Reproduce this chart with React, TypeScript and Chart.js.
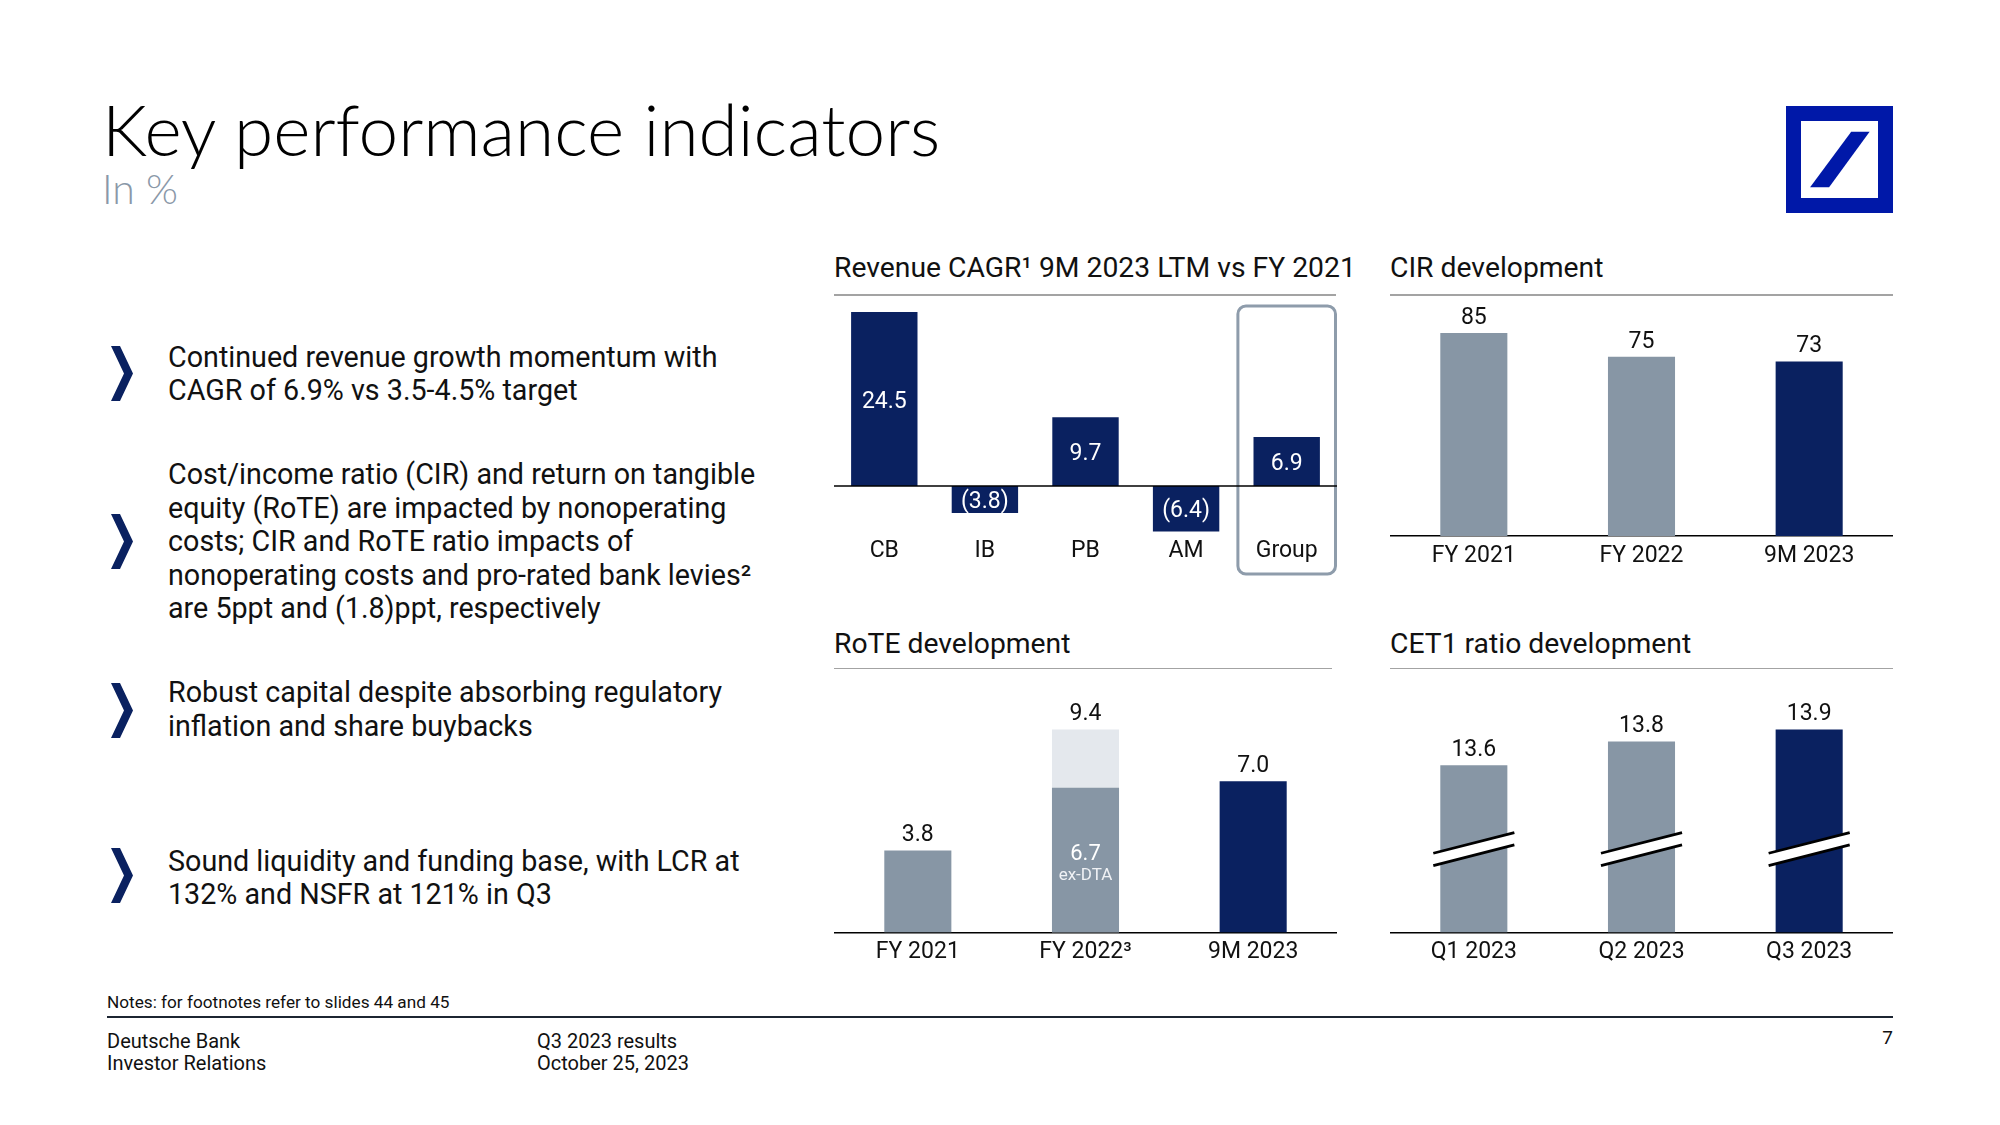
import React, { useEffect, useRef } from "react";
import { Chart, registerables } from "chart.js";

Chart.register(...registerables);

// ---------- data ----------
const revenueCategories = ["CB", "IB", "PB", "AM", "Group"];
const revenueCagr = [24.5, -3.8, 9.7, -6.4, 6.9];

const cirCategories = ["FY 2021", "FY 2022", "9M 2023"];
const cirValues = [85, 75, 73];

const roteCategories = ["FY 2021", "FY 2022³", "9M 2023"];
const roteValues = [3.8, 9.4, 7.0];
const roteExDta = [null, 6.7, null];

const cet1Categories = ["Q1 2023", "Q2 2023", "Q3 2023"];
const cet1Values = [13.6, 13.8, 13.9];
const cet1AxisMin = 12.2; // broken axis
const cet1AxisMax = 14.0;

// ---------- styles ----------
const FONT = "Roboto, 'Liberation Sans', sans-serif";
const NAVY = "#0a2160";
const GRAY = "#8796a5";
const LIGHT = "#e4e8ed";
const TEXT = "#111111";

const revenueColors = [NAVY, NAVY, NAVY, NAVY, NAVY];
const cirColors = [GRAY, GRAY, NAVY];
const roteColors = [GRAY, LIGHT, NAVY];
const cet1Colors = [GRAY, GRAY, NAVY];

function txt(ctx: CanvasRenderingContext2D, s: string, x: number, y: number, size: number, color: string) {
  ctx.save();
  ctx.font = `${size}px ${FONT}`;
  ctx.fillStyle = color;
  ctx.textAlign = "center";
  ctx.textBaseline = "middle";
  ctx.fillText(s, x, y);
  ctx.restore();
}

function baseOptions(padTop: number, padBottom: number, yMin: number, yMax: number, tickPad: number, border: boolean): any {
  return {
    responsive: false,
    animation: false,
    events: [],
    layout: { padding: { top: padTop, bottom: padBottom, left: 0, right: 0 } },
    plugins: { legend: { display: false }, tooltip: { enabled: false } },
    scales: {
      x: {
        grid: { display: false, drawTicks: false },
        border: { display: border, color: "#000000", width: 1.5 },
        ticks: { color: TEXT, font: { family: FONT, size: 23 }, padding: tickPad, maxRotation: 0, autoSkip: false },
      },
      y: { display: false, min: yMin, max: yMax, beginAtZero: false },
    },
  };
}

function ChartBox({ left, top, width, height, make }: any) {
  const ref = useRef<HTMLCanvasElement | null>(null);
  useEffect(() => {
    const chart = new Chart(ref.current as HTMLCanvasElement, make());
    return () => chart.destroy();
  }, []);
  return (
    <canvas
      ref={ref}
      width={width}
      height={height}
      style={{ position: "absolute", left, top, width, height }}
    />
  );
}

const ABOVE = 15; // label offset above bar top

function makeRevenue(): any {
  return {
    type: "bar",
    data: {
      labels: revenueCategories,
      datasets: [
        { data: revenueCagr, backgroundColor: revenueColors, barPercentage: 0.66, categoryPercentage: 1 },
      ],
    },
    options: baseOptions(12.5, 18.1, -6.8, 25, 3, false),
    plugins: [
      {
        id: "groupBox",
        beforeDatasetsDraw(chart: any) {
          const ctx = chart.ctx;
          const xs = chart.scales.x;
          const i = revenueCategories.indexOf("Group");
          const cx = xs.getPixelForValue(i);
          const half = (xs.getPixelForValue(1) - xs.getPixelForValue(0)) / 2;
          const top = chart.chartArea.top - 2.5;
          const bottom = top + 268;
          ctx.save();
          ctx.strokeStyle = "#8e9cab";
          ctx.lineWidth = 3;
          ctx.beginPath();
          (ctx as any).roundRect(cx - half + 1.5, top, 2 * half - 3, bottom - top, 8);
          ctx.stroke();
          ctx.restore();
        },
        afterDatasetsDraw(chart: any) {
          const ctx = chart.ctx;
          const y0 = chart.scales.y.getPixelForValue(0);
          ctx.save();
          ctx.strokeStyle = "#000";
          ctx.lineWidth = 1.5;
          ctx.beginPath();
          ctx.moveTo(chart.chartArea.left, y0);
          ctx.lineTo(chart.chartArea.right, y0);
          ctx.stroke();
          ctx.restore();
          const meta = chart.getDatasetMeta(0);
          meta.data.forEach((bar: any, i: number) => {
            const v = revenueCagr[i];
            const s = v < 0 ? `(${Math.abs(v).toFixed(1)})` : v.toFixed(1);
            txt(ctx, s, bar.x, (bar.y + bar.base) / 2 + 3, 23, "#ffffff");
          });
        },
      },
    ],
  };
}

function makeCir(): any {
  return {
    type: "bar",
    data: {
      labels: cirCategories,
      datasets: [{ data: cirValues, backgroundColor: cirColors, barPercentage: 0.4, categoryPercentage: 1 }],
    },
    options: baseOptions(31, 3.4, 0, 90, 6.5, true),
    plugins: [
      {
        id: "cirLabels",
        afterDatasetsDraw(chart: any) {
          const meta = chart.getDatasetMeta(0);
          meta.data.forEach((bar: any, i: number) => {
            txt(chart.ctx, String(cirValues[i]), bar.x, bar.y - ABOVE, 23, TEXT);
          });
        },
      },
    ],
  };
}

function makeRote(): any {
  return {
    type: "bar",
    data: {
      labels: roteCategories,
      datasets: [
        { data: roteExDta, backgroundColor: GRAY, order: 0, grouped: false, barPercentage: 0.4, categoryPercentage: 1 },
        { data: roteValues, backgroundColor: roteColors, order: 1, grouped: false, barPercentage: 0.4, categoryPercentage: 1 },
      ],
    },
    options: baseOptions(36.5, 8.9, 0, 10, 5.5, true),
    plugins: [
      {
        id: "roteLabels",
        afterDatasetsDraw(chart: any) {
          const ctx = chart.ctx;
          chart.getDatasetMeta(1).data.forEach((bar: any, i: number) => {
            txt(ctx, roteValues[i].toFixed(1), bar.x, bar.y - ABOVE, 23, TEXT);
          });
          chart.getDatasetMeta(0).data.forEach((bar: any, i: number) => {
            const v = roteExDta[i];
            if (v == null) return;
            const c = (bar.y + bar.base) / 2;
            txt(ctx, v.toFixed(1), bar.x, c - 6, 22, "#ffffff");
            txt(ctx, "ex-DTA", bar.x, c + 16, 17, "#f0f2f5");
          });
        },
      },
    ],
  };
}

function makeCet1(): any {
  return {
    type: "bar",
    data: {
      labels: cet1Categories,
      datasets: [
        { data: cet1Values, base: cet1AxisMin, backgroundColor: cet1Colors, barPercentage: 0.4, categoryPercentage: 1 },
      ],
    },
    options: baseOptions(37.5, 8.9, cet1AxisMin, cet1AxisMax, 5.5, true),
    plugins: [
      {
        id: "cet1Labels",
        afterDatasetsDraw(chart: any) {
          const ctx = chart.ctx;
          const meta = chart.getDatasetMeta(0);
          const bottom = chart.chartArea.bottom;
          meta.data.forEach((bar: any, i: number) => {
            txt(ctx, cet1Values[i].toFixed(1), bar.x, bar.y - ABOVE, 23, TEXT);
            // axis-break marks
            const half = bar.width / 2;
            const cy = bottom - 83.4;
            const s = -0.255;
            const g = 6.2;
            const x1 = bar.x - half - 7;
            const x2 = bar.x + half + 7;
            const yy = (x: number, off: number) => cy + off + s * (x - bar.x);
            ctx.save();
            ctx.fillStyle = "#ffffff";
            ctx.beginPath();
            ctx.moveTo(x1, yy(x1, -g));
            ctx.lineTo(x2, yy(x2, -g));
            ctx.lineTo(x2, yy(x2, g));
            ctx.lineTo(x1, yy(x1, g));
            ctx.closePath();
            ctx.fill();
            ctx.strokeStyle = "#000000";
            ctx.lineWidth = 2.8;
            ctx.beginPath();
            ctx.moveTo(x1, yy(x1, -g));
            ctx.lineTo(x2, yy(x2, -g));
            ctx.moveTo(x1, yy(x1, g));
            ctx.lineTo(x2, yy(x2, g));
            ctx.stroke();
            ctx.restore();
          });
        },
      },
    ],
  };
}

// ---------- static slide parts ----------
const bullets = [
  { top: 340.5, chev: 373, lines: ["Continued revenue growth momentum with", "CAGR of 6.9% vs 3.5-4.5% target"] },
  {
    top: 458,
    chev: 541,
    lines: [
      "Cost/income ratio (CIR) and return on tangible",
      "equity (RoTE) are impacted by nonoperating",
      "costs; CIR and RoTE ratio impacts of",
      "nonoperating costs and pro-rated bank levies²",
      "are 5ppt and (1.8)ppt, respectively",
    ],
  },
  { top: 676, chev: 710.5, lines: ["Robust capital despite absorbing regulatory", "inflation and share buybacks"] },
  { top: 844.5, chev: 875.5, lines: ["Sound liquidity and funding base, with LCR at", "132% and NSFR at 121% in Q3"] },
];

function Chevron({ cy }: { cy: number }) {
  const h = 55;
  return (
    <svg style={{ position: "absolute", left: 111, top: cy - h / 2 }} width={24} height={h}>
      <polygon points={`0,0 9,0 22,${h / 2} 9,${h} 0,${h} 13,${h / 2}`} fill={NAVY} />
    </svg>
  );
}

function Title({ text, left, top }: any) {
  return (
    <div style={{ position: "absolute", left, top, fontFamily: FONT, fontSize: 28.3, lineHeight: "28px", color: TEXT, whiteSpace: "nowrap" }}>
      {text}
    </div>
  );
}

function Rule({ left, top, width, color = "#a3a3a3", h = 1.5 }: any) {
  return <div style={{ position: "absolute", left, top, width, height: h, background: color }} />;
}

export default function App() {
  useEffect(() => {
    document.body.style.margin = "0";
  }, []);
  return (
    <div style={{ position: "absolute", left: 0, top: 0, width: 2000, height: 1125, background: "#ffffff", overflow: "hidden" }}>
      <div style={{ position: "absolute", left: 102, top: 93, fontFamily: "Lato, 'Open Sans', sans-serif", fontWeight: 300, fontSize: 71.2, lineHeight: "71px", color: "#000", whiteSpace: "nowrap" }}>
        Key performance indicators
      </div>
      <div style={{ position: "absolute", left: 102, top: 168, fontFamily: "Lato, 'Open Sans', sans-serif", fontWeight: 300, fontSize: 41, lineHeight: "41px", color: "#8a98a8", whiteSpace: "nowrap" }}>
        In %
      </div>

      <svg style={{ position: "absolute", left: 1786, top: 106 }} width={107} height={107}>
        <rect x={0} y={0} width={107} height={107} fill="#0018a8" />
        <rect x={15} y={15} width={77} height={77} fill="#ffffff" />
        <polygon points="65.2,25.8 83.6,25.8 43.1,81.2 24.1,81.2" fill="#0018a8" />
      </svg>

      {bullets.map((b, k) => (
        <React.Fragment key={k}>
          <Chevron cy={b.chev} />
          <div style={{ position: "absolute", left: 168, top: b.top, fontFamily: FONT, fontSize: 28.7, lineHeight: "33.5px", color: TEXT, whiteSpace: "nowrap" }}>
            {b.lines.map((l, j) => (
              <div key={j}>{l}</div>
            ))}
          </div>
        </React.Fragment>
      ))}

      <Title text="Revenue CAGR¹ 9M 2023 LTM vs FY 2021" left={834} top={253.5} />
      <Rule left={834} top={294} width={502} />
      <Title text="CIR development" left={1390} top={253.5} />
      <Rule left={1390} top={294} width={503} />
      <Title text="RoTE development" left={834} top={629.5} />
      <Rule left={834} top={667.5} width={498} />
      <Title text="CET1 ratio development" left={1390} top={629.5} />
      <Rule left={1390} top={667.5} width={503} />

      <ChartBox left={834} top={296} width={503} height={290} make={makeRevenue} />
      <ChartBox left={1390} top={290} width={503} height={290} make={makeCir} />
      <ChartBox left={834} top={680} width={503} height={300} make={makeRote} />
      <ChartBox left={1390} top={680} width={503} height={300} make={makeCet1} />

      <div style={{ position: "absolute", left: 107, top: 994, fontFamily: FONT, fontSize: 17.2, lineHeight: "17px", color: TEXT, whiteSpace: "nowrap" }}>
        Notes: for footnotes refer to slides 44 and 45
      </div>
      <Rule left={107} top={1016} width={1786} color="#1c2531" h={1.5} />
      <div style={{ position: "absolute", left: 107, top: 1030, fontFamily: FONT, fontSize: 20, lineHeight: "22px", color: TEXT, whiteSpace: "nowrap" }}>
        <div>Deutsche Bank</div>
        <div>Investor Relations</div>
      </div>
      <div style={{ position: "absolute", left: 537, top: 1030, fontFamily: FONT, fontSize: 20, lineHeight: "22px", color: TEXT, whiteSpace: "nowrap" }}>
        <div>Q3 2023 results</div>
        <div>October 25, 2023</div>
      </div>
      <div style={{ position: "absolute", right: 2000 - 1893, top: 1027, fontFamily: FONT, fontSize: 19, lineHeight: "22px", color: TEXT }}>
        7
      </div>
    </div>
  );
}
